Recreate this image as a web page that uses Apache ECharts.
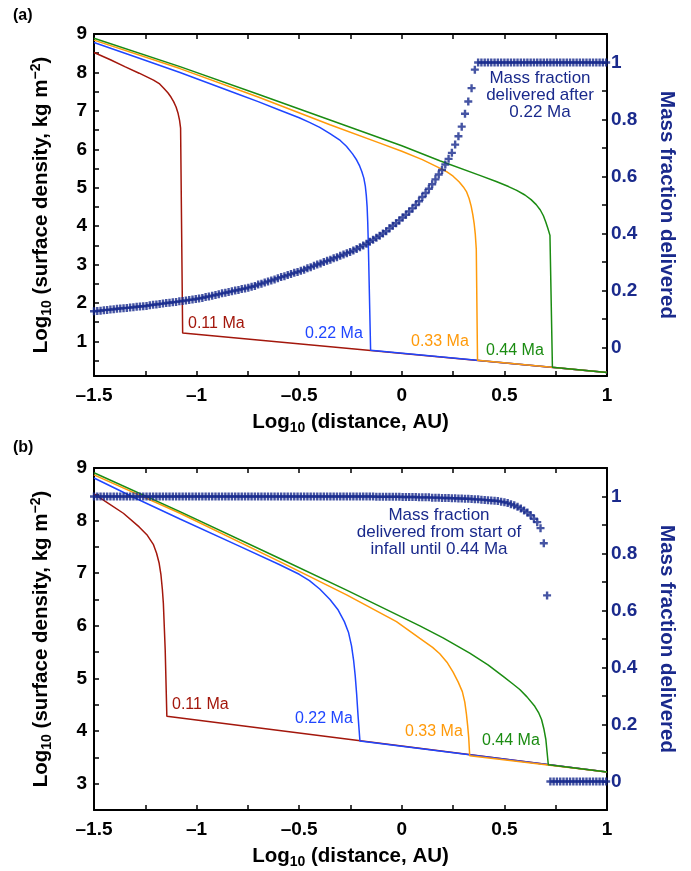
<!DOCTYPE html>
<html>
<head>
<meta charset="utf-8">
<script src="https://cdn.jsdelivr.net/npm/echarts@6/dist/echarts.min.js"></script>
<style>
  html, body { margin: 0; padding: 0; background: #ffffff; }
  #chart { width: 691px; height: 871px; }
</style>
</head>
<body>
<div id="chart"></div>
<script>
// ---------- axis ticks and labels ----------
const distanceTicks  = [-1.5, -1.25, -1, -0.75, -0.5, -0.25, 0, 0.25, 0.5, 0.75, 1];
const distanceLabels = [-1.5, -1, -0.5, 0, 0.5, 1];
const sigmaTicksA  = [0.5, 1, 1.5, 2, 2.5, 3, 3.5, 4, 4.5, 5, 5.5, 6, 6.5, 7, 7.5, 8, 8.5, 9];
const sigmaLabelsA = [1, 2, 3, 4, 5, 6, 7, 8, 9];
const sigmaTicksB  = [3, 3.5, 4, 4.5, 5, 5.5, 6, 6.5, 7, 7.5, 8, 8.5, 9];
const sigmaLabelsB = [3, 4, 5, 6, 7, 8, 9];
const fracTicks  = [0, 0.1, 0.2, 0.3, 0.4, 0.5, 0.6, 0.7, 0.8, 0.9, 1];
const fracLabels = [0, 0.2, 0.4, 0.6, 0.8, 1];

// ---------- surface density profiles: [log10 distance (AU), log10 sigma (kg m^-2)] ----------
const ageNames = ['0.11 Ma', '0.22 Ma', '0.33 Ma', '0.44 Ma'];

// panel (a)
const sigmaA_011 = [[-1.5,8.52],[-1.42,8.33],[-1.35,8.15],[-1.28,7.98],[-1.21,7.80],[-1.18,7.70],[-1.16,7.59],[-1.14,7.47],[-1.125,7.36],[-1.112,7.24],[-1.1,7.1],[-1.09,6.93],[-1.083,6.75],[-1.078,6.55],[-1.068,1.22],[1,0.19]];
const sigmaA_022 = [[-1.5,8.78],[-1.3,8.41],[-1.081,8.0],[-0.8,7.44],[-0.7,7.24],[-0.6,7.03],[-0.5,6.82],[-0.45,6.70],[-0.4,6.57],[-0.35,6.41],[-0.3,6.23],[-0.27,6.08],[-0.24,5.88],[-0.22,5.72],[-0.205,5.56],[-0.195,5.42],[-0.185,5.25],[-0.178,5.05],[-0.173,4.8],[-0.169,4.5],[-0.166,4.1],[-0.163,3.5],[-0.152,0.77],[1,0.19]];
const sigmaA_033 = [[-1.5,8.84],[-1.081,8.10],[-0.7,7.36],[-0.35,6.64],[-0.107,6.16],[0,5.95],[0.1,5.73],[0.185,5.51],[0.22,5.41],[0.25,5.30],[0.28,5.15],[0.3,5.02],[0.315,4.9],[0.328,4.72],[0.338,4.52],[0.346,4.30],[0.353,4.05],[0.358,3.8],[0.363,3.4],[0.369,0.51],[1,0.19]];
const sigmaA_044 = [[-1.5,8.89],[-1.081,8.15],[-0.7,7.43],[-0.35,6.76],[0,6.09],[0.185,5.70],[0.38,5.32],[0.46,5.16],[0.52,5.03],[0.56,4.93],[0.6,4.81],[0.63,4.69],[0.655,4.56],[0.675,4.42],[0.69,4.27],[0.702,4.1],[0.712,3.94],[0.722,3.76],[0.734,0.33],[1,0.19]];

// panel (b)
const sigmaB_011 = [[-1.5,8.51],[-1.43,8.33],[-1.357,8.14],[-1.28,7.88],[-1.24,7.72],[-1.211,7.55],[-1.195,7.38],[-1.183,7.2],[-1.174,6.98],[-1.167,6.7],[-1.162,6.43],[-1.153,5.54],[-1.145,4.28],[1,3.22]];
const sigmaB_022 = [[-1.5,8.81],[-1.3,8.43],[-1.081,8.03],[-0.8,7.53],[-0.6,7.17],[-0.5,6.98],[-0.45,6.86],[-0.4,6.7],[-0.35,6.5],[-0.31,6.3],[-0.28,6.08],[-0.26,5.88],[-0.245,5.62],[-0.235,5.35],[-0.227,5.05],[-0.22,4.7],[-0.213,4.28],[-0.204,3.81],[1,3.22]];
const sigmaB_033 = [[-1.5,8.87],[-1.081,8.14],[-0.6,7.23],[-0.269,6.59],[-0.026,6.08],[0.088,5.76],[0.15,5.59],[0.185,5.47],[0.22,5.31],[0.25,5.12],[0.275,4.93],[0.295,4.75],[0.307,4.55],[0.315,4.32],[0.321,4.1],[0.326,3.88],[0.331,3.53],[1,3.22]];
const sigmaB_044 = [[-1.5,8.91],[-1.081,8.17],[-0.6,7.29],[-0.269,6.68],[0.088,6.0],[0.201,5.77],[0.331,5.48],[0.42,5.26],[0.494,5.04],[0.54,4.9],[0.575,4.79],[0.61,4.65],[0.648,4.47],[0.668,4.34],[0.681,4.22],[0.692,4.05],[0.702,3.84],[0.714,3.36],[1,3.22]];

// ---------- mass fraction delivered, sampled on the radial grid ----------
const distanceGrid = [
  -1.5, -1.484, -1.468, -1.452, -1.436, -1.42, -1.404, -1.388, -1.372, -1.356,
  -1.34, -1.324, -1.308, -1.292, -1.276, -1.26, -1.244, -1.228, -1.212, -1.196,
  -1.18, -1.164, -1.148, -1.132, -1.116, -1.1, -1.084, -1.068, -1.052, -1.036,
  -1.02, -1.004, -0.988, -0.972, -0.956, -0.94, -0.924, -0.908, -0.892, -0.876,
  -0.86, -0.844, -0.828, -0.812, -0.796, -0.78, -0.764, -0.748, -0.732, -0.716,
  -0.7, -0.684, -0.668, -0.652, -0.636, -0.62, -0.604, -0.588, -0.572, -0.556,
  -0.54, -0.524, -0.508, -0.492, -0.476, -0.46, -0.444, -0.428, -0.412, -0.396,
  -0.38, -0.364, -0.348, -0.332, -0.316, -0.3, -0.284, -0.268, -0.252, -0.236,
  -0.22, -0.204, -0.188, -0.172, -0.156, -0.14, -0.124, -0.108, -0.092, -0.076,
  -0.06, -0.044, -0.028, -0.012, 0.004, 0.02, 0.036, 0.052, 0.068, 0.084,
  0.1, 0.116, 0.132, 0.148, 0.164, 0.18, 0.196, 0.212, 0.228, 0.244,
  0.26, 0.276, 0.292, 0.308, 0.324, 0.34, 0.356, 0.372, 0.388, 0.404,
  0.42, 0.436, 0.452, 0.468, 0.484, 0.5, 0.516, 0.532, 0.548, 0.564,
  0.58, 0.596, 0.612, 0.628, 0.644, 0.66, 0.676, 0.692, 0.708, 0.724,
  0.74, 0.756, 0.772, 0.788, 0.804, 0.82, 0.836, 0.852, 0.868, 0.884,
  0.9, 0.916, 0.932, 0.948, 0.964, 0.98, 0.996
];

// (a) fraction delivered after 0.22 Ma
const fracAfter022 = [
  0.127, 0.128, 0.129, 0.131, 0.132, 0.133, 0.134, 0.136, 0.137, 0.138,
  0.139, 0.140, 0.141, 0.143, 0.144, 0.145, 0.146, 0.148, 0.150, 0.151,
  0.153, 0.154, 0.156, 0.157, 0.159, 0.160, 0.162, 0.163, 0.165, 0.167,
  0.168, 0.170, 0.172, 0.174, 0.177, 0.179, 0.182, 0.184, 0.187, 0.190,
  0.192, 0.195, 0.197, 0.200, 0.202, 0.205, 0.207, 0.210, 0.213, 0.216,
  0.221, 0.224, 0.228, 0.232, 0.235, 0.239, 0.243, 0.247, 0.250, 0.254,
  0.258, 0.262, 0.265, 0.269, 0.273, 0.278, 0.282, 0.287, 0.291, 0.295,
  0.300, 0.304, 0.308, 0.313, 0.317, 0.322, 0.326, 0.331, 0.335, 0.340,
  0.346, 0.352, 0.358, 0.364, 0.371, 0.378, 0.385, 0.392, 0.400, 0.408,
  0.418, 0.427, 0.436, 0.446, 0.456, 0.466, 0.477, 0.488, 0.500, 0.513,
  0.528, 0.542, 0.557, 0.573, 0.590, 0.607, 0.623, 0.642, 0.662, 0.683,
  0.712, 0.741, 0.775, 0.820, 0.863, 0.910, 0.975, 1, 1, 1,
  1, 1, 1, 1, 1, 1, 1, 1, 1, 1,
  1, 1, 1, 1, 1, 1, 1, 1, 1, 1,
  1, 1, 1, 1, 1, 1, 1, 1, 1, 1,
  1, 1, 1, 1, 1, 1, 1
];

// (b) fraction delivered from start of infall until 0.44 Ma
const fracUntil044 = [
  1, 1, 1, 1, 1, 1, 1, 1, 1, 1,
  1, 1, 1, 1, 1, 1, 1, 1, 1, 1,
  1, 1, 1, 1, 1, 1, 1, 1, 1, 1,
  1, 1, 1, 1, 1, 1, 1, 1, 1, 1,
  1, 1, 1, 1, 1, 1, 1, 1, 1, 1,
  1, 1, 1, 1, 1, 1, 1, 1, 1, 1,
  1, 1, 1, 1, 1, 1, 1, 1, 1, 1,
  1, 1, 1, 1, 1, 1, 1, 1, 1, 1,
  1, 1, 1, 1, 1, 1, 0.999, 0.999, 0.999, 0.999,
  0.999, 0.999, 0.999, 0.999, 0.998, 0.998, 0.998, 0.998, 0.998, 0.997,
  0.997, 0.997, 0.997, 0.996, 0.996, 0.996, 0.995, 0.995, 0.995, 0.994,
  0.994, 0.993, 0.993, 0.992, 0.992, 0.991, 0.990, 0.990, 0.989, 0.988,
  0.987, 0.986, 0.985, 0.984, 0.982, 0.980, 0.977, 0.973, 0.969, 0.964,
  0.958, 0.951, 0.944, 0.934, 0.922, 0.910, 0.889, 0.836, 0.653, 0,
  0, 0, 0, 0, 0, 0, 0, 0, 0, 0,
  0, 0, 0, 0, 0, 0, 0
];

// ---------- styling ----------
const FONT = '"Liberation Sans", Arial, Helvetica, sans-serif';
const NAVY = '#1a2a8c';
const CROSS = '#17298c';
const lineColors = ['#a3170c', '#1f46ff', '#ff9a0a', '#1b8c12'];
const PLUS = 'path://M3.5,0H6.5V3.5H10V6.5H6.5V10H3.5V6.5H0V3.5H3.5Z';

const dash = v => (v < 0 ? '\u2013' + String(Math.abs(v)) : String(v));

function titleRich(color) {
  return {
    b: { fontFamily: FONT, fontWeight: 'bold', fontSize: 20.5, lineHeight: 25, color: color },
    s: { fontFamily: FONT, fontWeight: 'bold', fontSize: 14, lineHeight: 9, verticalAlign: 'bottom', color: color },
    p: { fontFamily: FONT, fontWeight: 'bold', fontSize: 14, lineHeight: 14, verticalAlign: 'top', color: color }
  };
}

function xAxes(gi) {
  const common = {
    gridIndex: gi, type: 'value', min: -1.5, max: 1,
    axisLine: { show: true, onZero: false, lineStyle: { color: '#000', width: 2 } },
    axisTick: { show: true, inside: true, length: 5, customValues: distanceTicks, lineStyle: { color: '#000', width: 1.5 } },
    splitLine: { show: false }
  };
  return [
    Object.assign({}, common, {
      position: 'bottom',
      axisLabel: { customValues: distanceLabels, formatter: dash, color: '#000', fontFamily: FONT, fontWeight: 'bold', fontSize: 19, margin: 10 },
      name: '{b|Log}{s|10}{b| (distance, AU)}',
      nameLocation: 'middle', nameGap: 34,
      nameTextStyle: { rich: titleRich('#000') }
    }),
    Object.assign({}, common, { position: 'top', axisLabel: { show: false } })
  ];
}

function yAxes(gi, sigmaMin, sigmaTicks, sigmaLabels) {
  return [
    {
      gridIndex: gi, type: 'value', position: 'left', min: sigmaMin, max: 9,
      axisLine: { show: true, onZero: false, lineStyle: { color: '#000', width: 2 } },
      axisTick: { show: true, inside: true, length: 5, customValues: sigmaTicks, lineStyle: { color: '#000', width: 1.5 } },
      axisLabel: { customValues: sigmaLabels, color: '#000', fontFamily: FONT, fontWeight: 'bold', fontSize: 19, margin: 7 },
      splitLine: { show: false },
      name: '{b|Log}{s|10}{b| (surface density, kg m}{p|\u22122}{b|)}',
      nameLocation: 'middle', nameRotate: 90, nameGap: 40,
      nameTextStyle: { rich: titleRich('#000') }
    },
    {
      gridIndex: gi, type: 'value', position: 'right', min: -0.1, max: 1.1,
      axisLine: { show: true, onZero: false, lineStyle: { color: '#000', width: 2 } },
      axisTick: { show: true, inside: true, length: 5, customValues: fracTicks, lineStyle: { color: '#000', width: 1.5 } },
      axisLabel: { customValues: fracLabels, color: NAVY, fontFamily: FONT, fontWeight: 'bold', fontSize: 19, margin: 4 },
      splitLine: { show: false },
      name: '{b|Mass fraction delivered}',
      nameLocation: 'middle', nameRotate: -90, nameGap: 47,
      nameTextStyle: { rich: titleRich(NAVY) }
    }
  ];
}

function profileSeries(gi, profiles) {
  return profiles.map((pts, i) => ({
    type: 'line', name: ageNames[i],
    xAxisIndex: gi * 2, yAxisIndex: gi * 2,
    data: pts, showSymbol: false, smooth: false, clip: true,
    lineStyle: { color: lineColors[i], width: 1.5 },
    z: 2 + i, animation: false
  }));
}

function fractionSeries(gi, fractions) {
  return {
    type: 'scatter', xAxisIndex: gi * 2, yAxisIndex: gi * 2 + 1,
    data: distanceGrid.map((d, i) => [d, fractions[i]]),
    symbol: PLUS, symbolSize: 8,
    itemStyle: { color: CROSS },
    z: 10, animation: false
  };
}

function ageLabel(text, color, x, y) {
  return { type: 'text', x: x, y: y, style: { text: text, fill: color, font: '16px ' + FONT, textVerticalAlign: 'middle' }, z: 20 };
}

const chart = echarts.init(document.getElementById('chart'), null, { renderer: 'canvas' });
chart.setOption({
  backgroundColor: '#ffffff',
  animation: false,
  grid: [
    { left: 94, top: 34, width: 513, height: 342 },
    { left: 94, top: 468, width: 513, height: 342 }
  ],
  xAxis: xAxes(0).concat(xAxes(1)),
  yAxis: yAxes(0, 0.1, sigmaTicksA, sigmaLabelsA).concat(yAxes(1, 2.5, sigmaTicksB, sigmaLabelsB)),
  series: []
    .concat(profileSeries(0, [sigmaA_011, sigmaA_022, sigmaA_033, sigmaA_044]))
    .concat([fractionSeries(0, fracAfter022)])
    .concat(profileSeries(1, [sigmaB_011, sigmaB_022, sigmaB_033, sigmaB_044]))
    .concat([fractionSeries(1, fracUntil044)]),
  graphic: [
    { type: 'text', x: 13, y: 8, style: { text: '(a)', fill: '#000', font: 'bold 16px ' + FONT } },
    { type: 'text', x: 13, y: 440, style: { text: '(b)', fill: '#000', font: 'bold 16px ' + FONT } },
    { type: 'text', x: 540, y: 70, style: { text: 'Mass fraction\ndelivered after\n0.22 Ma', fill: NAVY, font: '17px ' + FONT, textAlign: 'center', lineHeight: 17 }, z: 20 },
    { type: 'text', x: 439, y: 507, style: { text: 'Mass fraction\ndelivered from start of\ninfall until 0.44 Ma', fill: NAVY, font: '17px ' + FONT, textAlign: 'center', lineHeight: 17 }, z: 20 },
    ageLabel(ageNames[0], lineColors[0], 188, 324),
    ageLabel(ageNames[1], lineColors[1], 305, 334),
    ageLabel(ageNames[2], lineColors[2], 411, 342),
    ageLabel(ageNames[3], lineColors[3], 486, 351),
    ageLabel(ageNames[0], lineColors[0], 172, 705),
    ageLabel(ageNames[1], lineColors[1], 295, 719),
    ageLabel(ageNames[2], lineColors[2], 405, 732),
    ageLabel(ageNames[3], lineColors[3], 482, 741)
  ]
});
</script>
</body>
</html>
